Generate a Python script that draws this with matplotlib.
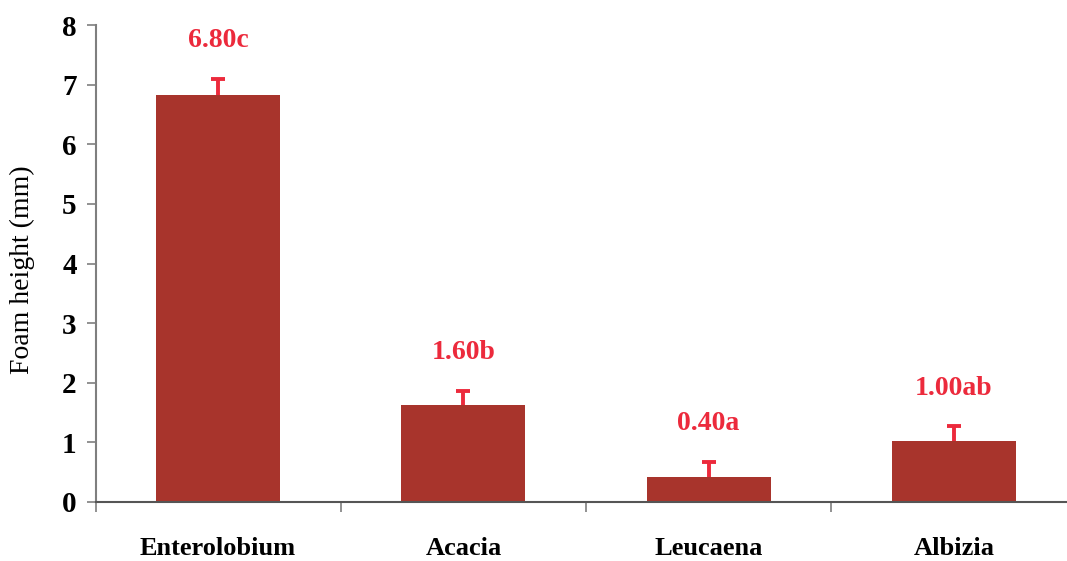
import matplotlib
matplotlib.use("Agg")
import matplotlib.pyplot as plt

species = ["Enterolobium", "Acacia", "Leucaena", "Albizia"]
foam = [6.82, 1.62, 0.42, 1.02]
err = [0.28, 0.25, 0.25, 0.25]
letters = ["6.80c", "1.60b", "0.40a", "1.00ab"]
yticks = [0, 1, 2, 3, 4, 5, 6, 7, 8]

bar_col = "#A8342C"
red = "#EC2A3C"
axis_col = "#7f7f7f"

plt.rcParams["font.family"] = ["Liberation Serif", "DejaVu Serif"]

fig = plt.figure(figsize=(10.67, 5.61), dpi=100)
ax = fig.add_axes([95.5 / 1067, 1 - 502 / 561, 981 / 1067, 477 / 561])

x = list(range(len(species)))
ax.bar(x, foam, width=0.505, color=bar_col, zorder=2)
tops = [v + e for v, e in zip(foam, err)]
ax.vlines(x, foam, tops, colors=red, linewidth=2.8, zorder=3)
ax.plot(x, tops, linestyle="none", marker="_", markersize=10,
        markeredgewidth=2.8, color=red, zorder=3)

for xi, t, lab in zip(x, tops, letters):
    ax.text(xi, t + 0.64, lab, ha="center", va="center", color=red,
            fontsize=20, fontweight="bold")

ax.set_xlim(-0.5, 3.5)
ax.set_ylim(0, 8)
ax.set_yticks(yticks)
ax.set_yticklabels([str(t) for t in yticks], fontsize=21, fontweight="bold")

ax.set_xticks([-0.5, 0.5, 1.5, 2.5])
ax.set_xticklabels([])
ax.set_xticks(x, minor=True)
ax.set_xticklabels(species, minor=True, fontsize=19, fontweight="bold")
ax.tick_params(axis="x", which="minor", length=0, pad=25)
ax.tick_params(axis="x", which="major", direction="out", length=7,
               color=axis_col, width=1.2)
ax.tick_params(axis="y", direction="out", length=6.5, color=axis_col,
               width=1.2, pad=7)

ax.set_ylabel("Foam height (mm)", fontsize=20)
ax.yaxis.set_label_coords(-0.062, 0.486)

for s in ["top", "right"]:
    ax.spines[s].set_visible(False)
ax.spines["left"].set_color(axis_col)
ax.spines["left"].set_linewidth(1.5)
ax.spines["bottom"].set_color("#555555")
ax.spines["bottom"].set_linewidth(1.5)

fig.savefig("out.png", dpi=100)
